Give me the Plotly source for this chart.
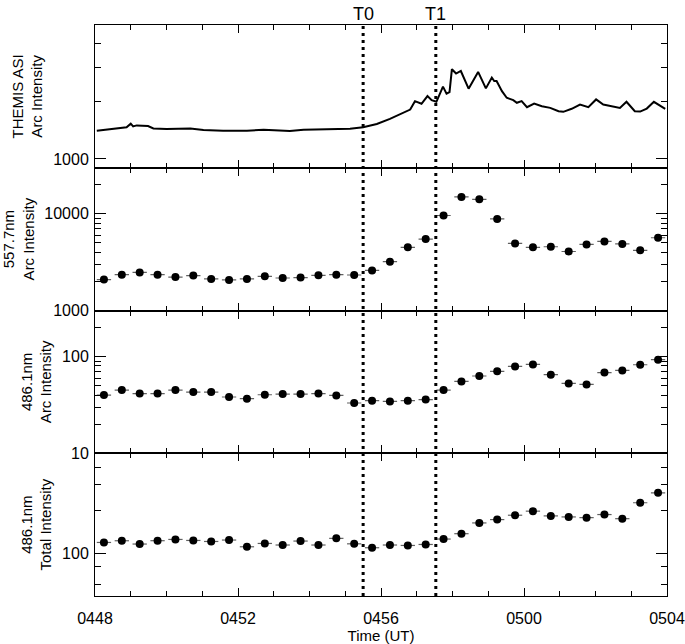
import math
import pandas as pd
import plotly.graph_objects as go
from plotly.subplots import make_subplots

DAY = "2008-03-01 "

# ---- THEMIS ASI arc intensity (panel 1) ----
asi_times = [
    "04:48:03", "04:48:25", "04:48:53", "04:49:00", "04:49:04", "04:49:10", "04:49:29",
    "04:49:38", "04:50:00", "04:50:40", "04:51:02", "04:51:35", "04:52:15", "04:52:43",
    "04:53:27", "04:53:50", "04:54:40", "04:55:08", "04:55:30", "04:55:53", "04:56:15",
    "04:56:32", "04:56:49", "04:56:57", "04:57:08", "04:57:18", "04:57:25", "04:57:33",
    "04:57:38", "04:57:44", "04:57:50", "04:57:55", "04:57:59", "04:58:06", "04:58:14",
    "04:58:27", "04:58:43", "04:58:56", "04:59:06", "04:59:10", "04:59:14", "04:59:23",
    "04:59:31", "04:59:42", "04:59:48", "04:59:56", "05:00:05", "05:00:17", "05:00:30",
    "05:00:44", "05:00:58", "05:01:06", "05:01:20", "05:01:34", "05:01:48", "05:02:01",
    "05:02:13", "05:02:30", "05:02:41", "05:02:52", "05:03:06", "05:03:15", "05:03:26",
    "05:03:38", "05:03:48", "05:03:57",
]
asi_values = [
    1404, 1427, 1462, 1528, 1479, 1497, 1486,
    1444, 1433, 1444, 1416, 1404, 1404, 1421,
    1399, 1421, 1433, 1438, 1465, 1522, 1618,
    1704, 1811, 2003, 1941, 2128, 2027, 1988,
    2173, 2385, 2192, 2234, 2940, 2792, 2878,
    2328, 2845, 2335, 2660, 2553, 2553, 2260,
    2086, 2027, 1964, 2003, 1862, 1947, 1884,
    1848, 1775, 1762, 1827, 1924, 1862, 2045,
    1924, 1884, 1848, 1988, 1775, 1767, 1833,
    1988, 1901, 1827,
]

# ---- spectrograph samples (panels 2-4), 30 s cadence ----
spec_times = pd.date_range(DAY + "04:48:15", periods=32, freq="30s")
half_exposure = pd.Timedelta(seconds=12)
i5577_arc = [
    2090, 2350, 2480, 2350, 2220, 2300, 2120, 2070, 2120, 2260, 2170, 2190, 2310, 2350, 2330, 2600,
    3200, 4500, 5480, 9620, 14960, 14150, 8870, 4940, 4500, 4570, 4080, 4830, 5180, 4880, 4190, 5660,
]
i4861_arc = [
    40.0, 45.0, 41.4, 41.4, 45.0, 43.0, 43.0, 38.2, 36.7, 40.3, 41.0, 41.0, 41.4, 39.7, 33.1, 35.0,
    34.4, 35.0, 35.9, 45.0, 55.4, 63.0, 70.4, 79.2, 83.0, 65.0, 52.8, 51.6, 68.3, 72.0, 82.4, 93.0,
]
i4861_total = [
    118.6, 121.9, 115.6, 122.0, 124.5, 122.5, 120.5, 123.3, 110.6, 116.7, 113.8, 121.3, 113.8, 126.7, 116.0, 108.9,
    113.8, 113.0, 114.8, 125.3, 136.6, 162.5, 171.5, 184.0, 196.5, 182.0, 179.0, 177.0, 186.0, 174.0, 225.0, 264.0,
]

marker_times = {"T0": "04:55:30", "T1": "04:57:32"}
x_tick_times = ["04:48", "04:52", "04:56", "05:00", "05:04"]
x_tick_labels = ["0448", "0452", "0456", "0500", "0504"]
x_minor_times = ["04:49", "04:50", "04:51", "04:53", "04:54", "04:55", "04:57",
                 "04:58", "04:59", "05:01", "05:02", "05:03"]

y_titles = ["THEMIS ASI<br>Arc Intensity", "557.7nm<br>Arc Intensity",
            "486.1nm<br>Arc Intensity", "486.1nm<br>Total Intensity"]
y_ranges = [(900, 5000), (1000, 30000), (10, 300), (50, 500)]
y_major = [[1000], [1000, 10000], [10, 100], [100]]
y_minor = [[2000, 3000, 4000],
           [2000, 3000, 4000, 5000, 6000, 7000, 8000, 9000, 20000],
           [20, 30, 40, 50, 60, 70, 80, 90, 200],
           [60, 80, 200, 300, 400]]

FONT = "Liberation Sans"

fig = make_subplots(rows=4, cols=1, shared_xaxes=True, vertical_spacing=0)

fig.add_trace(go.Scatter(x=[DAY + t for t in asi_times], y=asi_values, mode="lines",
                         line=dict(color="black", width=2), showlegend=False), row=1, col=1)

for row, vals in zip([2, 3, 4], [i5577_arc, i4861_arc, i4861_total]):
    # horizontal exposure bars, built from the sample times and values
    bx, by = [], []
    for t, v in zip(spec_times, vals):
        bx += [t - half_exposure, t + half_exposure, None]
        by += [v, v, None]
    fig.add_trace(go.Scatter(x=bx, y=by, mode="lines", line=dict(color="#606060", width=1.2),
                             showlegend=False, hoverinfo="skip"), row=row, col=1)
    fig.add_trace(go.Scatter(x=spec_times, y=vals, mode="markers",
                             marker=dict(color="black", size=8), showlegend=False),
                  row=row, col=1)

for i in range(4):
    row = i + 1
    lo, hi = y_ranges[i]
    fig.update_yaxes(
        type="log", range=[math.log10(lo), math.log10(hi)], automargin=False,
        tickmode="array", tickvals=y_major[i], ticktext=[str(v) for v in y_major[i]],
        ticks="inside", ticklen=11, tickwidth=1, tickcolor="black",
        minor=dict(tickmode="array", tickvals=y_minor[i], ticks="inside", ticklen=6,
                   tickcolor="black", tickwidth=1, showgrid=False),
        showline=True, linecolor="black", linewidth=1, mirror="ticks",
        showgrid=False, zeroline=False, ticklabelstandoff=2,
        tickfont=dict(family=FONT, size=16, color="black"),
        title=dict(text=y_titles[i], font=dict(family=FONT, size=15, color="black"), standoff=6),
        row=row, col=1)
    fig.update_xaxes(
        type="date", range=[DAY + "04:48:00", DAY + "05:04:00"], automargin=False,
        tickmode="array", tickvals=[DAY + t for t in x_tick_times], ticktext=x_tick_labels,
        ticks="inside", ticklen=8, tickwidth=1, tickcolor="black",
        minor=dict(tickmode="array", tickvals=[DAY + t for t in x_minor_times], ticks="inside",
                   ticklen=5, tickcolor="black", tickwidth=1, showgrid=False),
        showline=True, linecolor="black", linewidth=1, mirror="ticks",
        showgrid=False, zeroline=False, showticklabels=(row == 4),
        tickfont=dict(family=FONT, size=16, color="black"),
        row=row, col=1)

fig.update_xaxes(ticklabelstandoff=8,
                 title=dict(text="Time (UT)", font=dict(family=FONT, size=15, color="black"),
                            standoff=2), row=4, col=1)

for name, t in marker_times.items():
    fig.add_shape(type="line", xref="x", yref="paper", x0=DAY + t, x1=DAY + t, y0=0, y1=1,
                  line=dict(color="black", width=3, dash="3px,4px"))
    fig.add_annotation(x=DAY + t, xref="x", y=1, yref="paper", yanchor="bottom", yshift=-1,
                       text=name, showarrow=False, font=dict(family=FONT, size=18, color="black"))

fig.update_layout(width=685, height=644, margin=dict(l=95, r=18, t=25, b=48),
                  plot_bgcolor="white", paper_bgcolor="white", showlegend=False)

# remove the browser's default 8 px body margin so the figure sits at the window origin
fig.write_html("out.html", config={"displayModeBar": False},
               post_script="document.body.style.margin='0px';")
